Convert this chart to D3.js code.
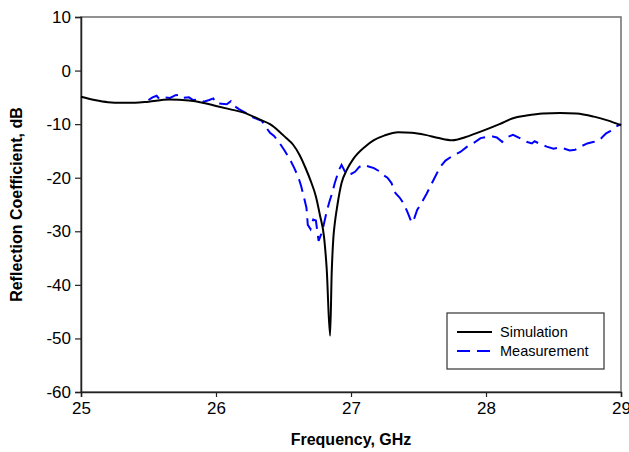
<!DOCTYPE html>
<html>
<head>
<meta charset="utf-8">
<script src="https://cdn.jsdelivr.net/npm/d3@7"></script>
<style>
  body { margin: 0; background: #fff; }
  text { font-family: "Liberation Sans", Arial, sans-serif; }
</style>
</head>
<body>
<svg id="chart" width="629" height="452"></svg>
<script>
"use strict";

// Simulation curve (frequency GHz, reflection dB)
const simFreq = [25.0, 25.1, 25.2, 25.3, 25.4, 25.5, 25.65, 25.8, 25.9, 26.0, 26.1, 26.2, 26.33, 26.4, 26.47,
  26.52, 26.57, 26.62, 26.66, 26.70, 26.74, 26.77, 26.80, 26.82, 26.845, 26.857, 26.87, 26.88, 26.9, 26.93, 26.97,
  27.02, 27.1, 27.17, 27.25, 27.35, 27.45, 27.55, 27.65, 27.75, 27.85, 27.96, 28.1, 28.2, 28.3, 28.42,
  28.55, 28.67, 28.8, 28.9, 29.0];
const simDb = [-4.9, -5.5, -5.9, -6.0, -6.0, -5.8, -5.4, -5.6, -6.0, -6.6, -7.2, -7.8, -9.2, -10.0, -11.4,
  -12.6, -13.8, -15.8, -18.0, -20.5, -23.5, -27.0, -31.0, -37.0, -49.5, -37.8, -31.0, -28.5, -25.0, -21.0, -18.5,
  -16.4, -14.3, -13.0, -12.1, -11.5, -11.6, -12.0, -12.6, -13.0, -12.4, -11.4, -10.0, -8.9, -8.4, -8.0,
  -7.9, -8.0, -8.6, -9.3, -10.2];

// Measurement curve
const measFreq = [25.50, 25.53, 25.56, 25.58, 25.62, 25.66, 25.70, 25.73, 25.76, 25.80, 25.83, 25.87, 25.91,
  25.95, 25.98, 26.00, 26.04, 26.08, 26.11, 26.13, 26.17, 26.22, 26.27, 26.31, 26.34, 26.37, 26.40, 26.43,
  26.47, 26.51, 26.55, 26.58, 26.61, 26.63, 26.65, 26.67, 26.68, 26.70, 26.72, 26.74, 26.76, 26.78, 26.795,
  26.82, 26.84, 26.86, 26.88, 26.91, 26.93, 26.95, 26.97, 27.00, 27.03, 27.06, 27.09, 27.13, 27.17, 27.21,
  27.24, 27.27, 27.30, 27.33, 27.36, 27.39, 27.42, 27.45, 27.47, 27.49, 27.52, 27.56, 27.60, 27.63, 27.66,
  27.70, 27.76, 27.81, 27.86, 27.91, 27.96, 28.00, 28.05, 28.08, 28.12, 28.16, 28.20, 28.25, 28.30, 28.34,
  28.36, 28.40, 28.45, 28.50, 28.54, 28.57, 28.62, 28.66, 28.70, 28.75, 28.80, 28.84, 28.87, 28.89, 28.92,
  28.96, 29.00];
const measDb = [-5.5, -5.0, -4.7, -5.3, -5.0, -5.1, -4.6, -4.5, -5.1, -5.0, -5.5, -5.4, -5.8,
  -5.5, -5.2, -6.1, -6.2, -6.3, -5.7, -6.5, -7.2, -7.9, -8.7, -9.1, -9.4, -10.6, -11.6, -12.2,
  -13.5, -15.0, -16.7, -18.2, -19.9, -21.5, -23.5, -25.6, -28.8, -29.6, -27.8, -28.0, -31.8, -30.5, -29.1,
  -26.3, -24.5, -22.9, -21.0, -18.6, -17.6, -18.6, -19.5, -19.3, -18.9, -18.0, -17.6, -17.9, -18.2, -18.8,
  -19.5, -20.0, -21.0, -22.9, -23.7, -24.8, -26.5, -28.4, -27.5, -26.0, -24.8, -23.0, -21.0, -19.5, -18.0,
  -16.8, -15.8, -15.2, -14.2, -13.5, -12.6, -12.4, -12.3, -12.5, -13.3, -12.4, -12.0, -12.6, -13.3, -13.6,
  -13.2, -13.7, -14.2, -14.6, -14.4, -14.5, -14.9, -14.8, -14.2, -13.6, -13.3, -13.0, -12.2, -11.7, -11.3,
  -10.5, -10.0];

const xTicks = [25, 26, 27, 28, 29];
const yTicks = [10, 0, -10, -20, -30, -40, -50, -60];
const seriesNames = ["Simulation", "Measurement"];

const margin = { top: 17, right: 8, bottom: 60, left: 81 };
const width = 629, height = 452;
const svg = d3.select("#chart");

const x = d3.scaleLinear().domain([25, 29]).range([margin.left, width - margin.right]);
const y = d3.scaleLinear().domain([-60, 10]).range([height - margin.bottom, margin.top]);

// Plot area frame
svg.append("rect")
  .attr("x", x(25)).attr("y", y(10))
  .attr("width", x(29) - x(25)).attr("height", y(-60) - y(10))
  .attr("fill", "none").attr("stroke", "#6e6e6e").attr("stroke-width", 1.5);

// Axes
const xAxis = svg.append("g")
  .attr("transform", `translate(0,${y(-60)})`)
  .call(d3.axisBottom(x).tickValues(xTicks).tickSize(5).tickPadding(5).tickFormat(d3.format("d")));
const yAxis = svg.append("g")
  .attr("transform", `translate(${x(25)},0)`)
  .call(d3.axisLeft(y).tickValues(yTicks).tickSize(6).tickPadding(4).tickFormat(d3.format("d")));

[xAxis, yAxis].forEach((g) => {
  g.select(".domain").attr("stroke", "#222").attr("stroke-width", 1.5);
  g.selectAll(".tick line").attr("stroke", "#222").attr("stroke-width", 1.2);
  g.selectAll(".tick text").attr("fill", "#000").style("font-size", "17px")
    .style("font-family", "'Liberation Sans', Arial, sans-serif");
});
// d3 uses a unicode minus; the reference uses a plain hyphen
yAxis.selectAll(".tick text").text((d) => String(d));

// Axis titles
svg.append("text")
  .attr("x", (x(25) + x(29)) / 2).attr("y", 445)
  .attr("text-anchor", "middle")
  .style("font-size", "16px").style("font-weight", "bold")
  .text("Frequency, GHz");

svg.append("text")
  .attr("transform", `translate(22,${(y(10) + y(-60)) / 2}) rotate(-90)`)
  .attr("text-anchor", "middle")
  .style("font-size", "16px").style("font-weight", "bold")
  .text("Reflection Coefficient, dB");

// Curves
const simData = simFreq.map((f, i) => [f, simDb[i]]);
const measData = measFreq.map((f, i) => [f, measDb[i]]);

const simLine = d3.line().x((d) => x(d[0])).y((d) => y(d[1])).curve(d3.curveMonotoneX);
const measLine = d3.line().x((d) => x(d[0])).y((d) => y(d[1]));

svg.append("path")
  .attr("d", measLine(measData))
  .attr("fill", "none").attr("stroke", "#0000ff")
  .attr("stroke-width", 2).attr("stroke-dasharray", "13,7");

svg.append("path")
  .attr("d", simLine(simData))
  .attr("fill", "none").attr("stroke", "#000")
  .attr("stroke-width", 2);

// Legend
const legend = svg.append("g").attr("transform", "translate(447,313)");
legend.append("rect")
  .attr("width", 157).attr("height", 56)
  .attr("fill", "#fff").attr("stroke", "#333").attr("stroke-width", 1.2);

const legendStyles = [
  { stroke: "#000", dash: null },
  { stroke: "#0000ff", dash: "13,7" }
];
seriesNames.forEach((name, i) => {
  const row = legend.append("g").attr("transform", `translate(0,${19 + i * 19})`);
  row.append("line")
    .attr("x1", 10).attr("x2", 45)
    .attr("stroke", legendStyles[i].stroke).attr("stroke-width", 2)
    .attr("stroke-dasharray", legendStyles[i].dash);
  row.append("text")
    .attr("x", 53).attr("y", 5)
    .style("font-size", "14.5px")
    .text(name);
});
</script>
</body>
</html>
